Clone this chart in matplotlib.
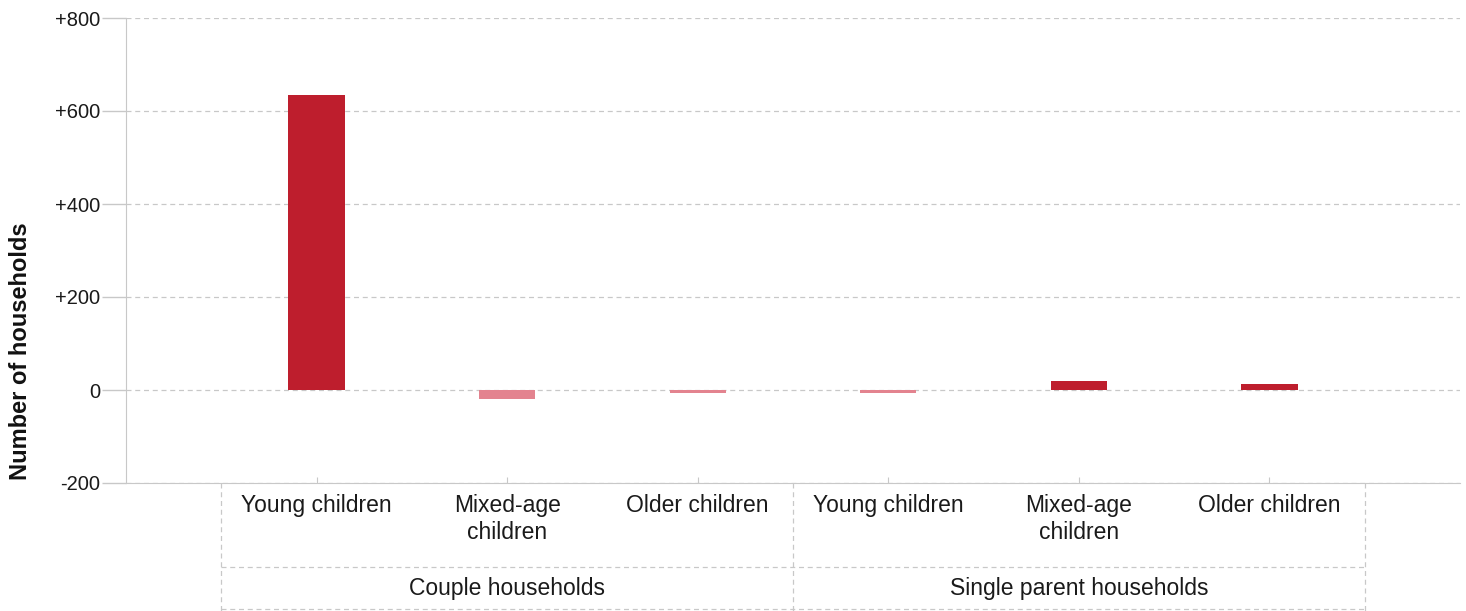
import matplotlib.pyplot as plt
from matplotlib.transforms import blended_transform_factory
from matplotlib.ticker import FuncFormatter

plt.rcParams['font.family'] = ['Liberation Sans', 'DejaVu Sans']

groups = ["Couple households", "Single parent households"]
categories = ["Young children", "Mixed-age\nchildren", "Older children",
              "Young children", "Mixed-age\nchildren", "Older children"]
values = [634, -19, -6, -6, 19, 13]
yticks = [-200, 0, 200, 400, 600, 800]

pos_color = "#BE1E2D"
neg_color = "#E3838F"

fig = plt.figure(figsize=(14.66, 6.11), dpi=100)
ax = fig.add_axes([126 / 1466, 1 - 483 / 611, (1460 - 126) / 1466, (483 - 18) / 611])

x = list(range(len(values)))
colors = [pos_color if v >= 0 else neg_color for v in values]
ax.bar(x, values, width=0.295, color=colors, zorder=3)

ax.set_xlim(-1, len(values))
ax.set_ylim(-200, 800)
ax.set_yticks(yticks)
ax.yaxis.set_major_formatter(FuncFormatter(lambda v, p: "0" if v == 0 else f"{v:+.0f}"))
ax.grid(axis="y", color="#c8c8c8", linestyle=(0, (4, 3)), linewidth=0.9, zorder=0)
ax.tick_params(axis="y", labelsize=14.5, colors="#c8c8c8", labelcolor="#1a1a1a",
               length=17, width=1, pad=1.5)
ax.tick_params(axis="x", length=4, colors="#c8c8c8", labelbottom=False, direction="in")
ax.set_xticks(x)

for s in ["top", "right"]:
    ax.spines[s].set_visible(False)
for s in ["left", "bottom"]:
    ax.spines[s].set_color("#c8c8c8")

ax.set_ylabel("Number of households", fontsize=17, fontweight="bold", color="#111111")
ax.yaxis.set_label_coords(-0.0705, 0.284)

# hierarchical category axis
tr = blended_transform_factory(ax.transData, ax.transAxes)
line_kw = dict(color="#c8c8c8", linestyle=(0, (4, 3)), linewidth=0.9, clip_on=False, transform=tr)
n_per = len(values) // len(groups)
for i, lab in enumerate(categories):
    ax.text(i, -0.024, lab, transform=tr, ha="center", va="top", fontsize=16.5,
            color="#1a1a1a", linespacing=1.2)
edges = [-0.5 + g * n_per for g in range(len(groups) + 1)]
for e in edges:
    ax.plot([e, e], [0, -0.276], **line_kw)
ax.plot([edges[0], edges[-1]], [-0.181, -0.181], **line_kw)
ax.plot([edges[0], edges[-1]], [-0.271, -0.271], **line_kw)
for g, lab in enumerate(groups):
    ax.text((edges[g] + edges[g + 1]) / 2, -0.226, lab, transform=tr, ha="center",
            va="center", fontsize=16.5, color="#1a1a1a")

fig.savefig("out.png", dpi=100)
